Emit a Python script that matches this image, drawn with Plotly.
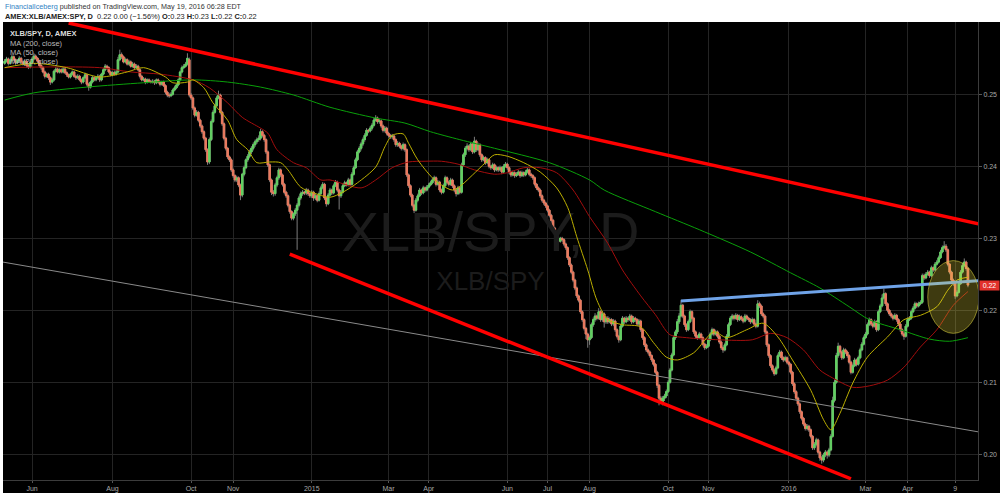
import plotly.graph_objects as go
import pandas as pd

# ---------------- data (prices in units of 0.0001) ----------------
UNIT = 1e-4

close_e4 = [
 2546, 2549, 2543, 2547, 2552, 2548, 2544, 2547, 2550, 2545,
 2542, 2546, 2540, 2538, 2544, 2549, 2553, 2550, 2546, 2540,
 2537, 2531, 2525, 2528, 2523, 2517, 2520, 2532, 2535, 2531,
 2534, 2531, 2535, 2530, 2527, 2524, 2528, 2531, 2525, 2523,
 2525, 2520, 2517, 2523, 2527, 2514, 2510, 2517, 2523, 2520,
 2523, 2525, 2520, 2528, 2534, 2539, 2537, 2531, 2527, 2530,
 2528, 2531, 2548, 2555, 2552, 2545, 2548, 2542, 2545, 2539,
 2542, 2537, 2539, 2534, 2525, 2520, 2521, 2517, 2520, 2518,
 2517, 2518, 2516, 2520, 2517, 2514, 2517, 2512, 2503, 2499,
 2498, 2500, 2506, 2509, 2513, 2520, 2531, 2537, 2539, 2542,
 2550, 2499, 2495, 2481, 2471, 2475, 2464, 2456, 2448, 2439,
 2423, 2406, 2437, 2462, 2475, 2484, 2495, 2499, 2475, 2459,
 2439, 2425, 2413, 2409, 2395, 2387, 2381, 2384, 2374, 2360,
 2389, 2398, 2409, 2414, 2420, 2425, 2430, 2434, 2437, 2439,
 2448, 2443, 2437, 2420, 2402, 2381, 2364, 2362, 2374, 2384,
 2395, 2388, 2375, 2364, 2359, 2346, 2337, 2328, 2334, 2339,
 2346, 2356, 2362, 2364, 2363, 2367, 2362, 2359, 2364, 2356,
 2359, 2353, 2362, 2370, 2375, 2356, 2348, 2360, 2367, 2363,
 2373, 2378, 2367, 2359, 2364, 2373, 2377, 2374, 2381, 2375,
 2389, 2398, 2409, 2420, 2425, 2431, 2437, 2443, 2450, 2449,
 2453, 2457, 2464, 2467, 2462, 2463, 2456, 2450, 2453, 2446,
 2443, 2441, 2442, 2437, 2430, 2432, 2428, 2425, 2430, 2423,
 2388, 2373, 2360, 2346, 2339, 2353, 2359, 2367, 2363, 2370,
 2367, 2371, 2374, 2377, 2381, 2384, 2375, 2378, 2367, 2364,
 2373, 2384, 2378, 2375, 2381, 2373, 2367, 2362, 2370, 2364,
 2402, 2416, 2425, 2428, 2423, 2431, 2420, 2435, 2423, 2430,
 2416, 2409, 2412, 2405, 2409, 2400, 2398, 2402, 2395, 2398,
 2395, 2398, 2392, 2400, 2403, 2398, 2392, 2388, 2391, 2387,
 2389, 2392, 2387, 2391, 2388, 2392, 2395, 2389, 2387, 2384,
 2375, 2370, 2367, 2359, 2353, 2349, 2345, 2339, 2332, 2325,
 2314, 2306, 2298, 2296, 2300, 2298, 2292, 2287, 2273, 2263,
 2253, 2242, 2231, 2220, 2214, 2198, 2187, 2175, 2167, 2159,
 2162, 2180, 2187, 2192, 2189, 2198, 2187, 2195, 2184, 2189,
 2184, 2187, 2181, 2185, 2173, 2164, 2159, 2178, 2189, 2184,
 2189, 2187, 2192, 2184, 2189, 2187, 2181, 2185, 2173, 2162,
 2152, 2145, 2142, 2137, 2131, 2125, 2114, 2096, 2078, 2073,
 2078, 2081, 2087, 2100, 2117, 2138, 2162, 2170, 2184, 2192,
 2207, 2192, 2180, 2173, 2184, 2198, 2189, 2170, 2164, 2162,
 2167, 2162, 2153, 2148, 2150, 2159, 2167, 2173, 2167, 2170,
 2164, 2156, 2148, 2145, 2152, 2164, 2180, 2189, 2192, 2189,
 2193, 2187, 2191, 2188, 2185, 2192, 2189, 2187, 2184, 2187,
 2181, 2178, 2209, 2206, 2195, 2192, 2170, 2152, 2137, 2123,
 2117, 2112, 2120, 2137, 2142, 2134, 2131, 2134, 2128, 2125,
 2114, 2098, 2087, 2078, 2070, 2059, 2050, 2042, 2036, 2039,
 2034, 2025, 2009, 2014, 2020, 2003, 1995, 1992, 1999, 2003,
 1999, 2006, 2025, 2075, 2100, 2137, 2150, 2142, 2134, 2145,
 2142, 2137, 2128, 2114, 2123, 2131, 2125, 2134, 2145, 2153,
 2162, 2167, 2180, 2187, 2181, 2178, 2184, 2173, 2198, 2206,
 2217, 2223, 2209, 2200, 2195, 2192, 2189, 2193, 2187, 2181,
 2173, 2167, 2164, 2178, 2187, 2189, 2198, 2203, 2209, 2206,
 2209, 2211, 2248, 2245, 2250, 2253, 2248, 2259, 2256, 2264,
 2267, 2273, 2281, 2287, 2289, 2284, 2264, 2253, 2242, 2237,
 2220, 2225, 2237, 2253, 2262, 2267, 2258, 2235]

open_e4 = [
 2543, 2546, 2549, 2543, 2547, 2552, 2548, 2544, 2547, 2550,
 2545, 2542, 2546, 2540, 2538, 2544, 2549, 2553, 2550, 2546,
 2540, 2537, 2531, 2525, 2528, 2523, 2517, 2520, 2532, 2535,
 2531, 2534, 2531, 2535, 2530, 2527, 2524, 2528, 2531, 2525,
 2523, 2525, 2520, 2517, 2523, 2527, 2514, 2510, 2517, 2523,
 2520, 2523, 2525, 2520, 2528, 2534, 2539, 2537, 2531, 2527,
 2530, 2528, 2531, 2548, 2555, 2552, 2545, 2548, 2542, 2545,
 2539, 2542, 2537, 2539, 2534, 2525, 2520, 2521, 2517, 2520,
 2518, 2517, 2518, 2516, 2520, 2517, 2514, 2517, 2512, 2503,
 2499, 2498, 2500, 2506, 2509, 2513, 2520, 2531, 2537, 2539,
 2542, 2548, 2499, 2495, 2481, 2471, 2475, 2464, 2456, 2448,
 2439, 2423, 2406, 2437, 2462, 2475, 2484, 2495, 2499, 2475,
 2459, 2439, 2425, 2413, 2409, 2395, 2387, 2381, 2384, 2374,
 2360, 2389, 2398, 2409, 2414, 2420, 2425, 2430, 2434, 2437,
 2439, 2448, 2443, 2437, 2420, 2402, 2381, 2364, 2362, 2374,
 2384, 2395, 2388, 2375, 2364, 2359, 2346, 2337, 2328, 2334,
 2339, 2346, 2356, 2362, 2364, 2363, 2367, 2362, 2359, 2364,
 2356, 2359, 2353, 2362, 2370, 2375, 2356, 2348, 2360, 2367,
 2363, 2373, 2378, 2367, 2359, 2364, 2373, 2377, 2374, 2381,
 2375, 2389, 2398, 2409, 2420, 2425, 2431, 2437, 2443, 2450,
 2449, 2453, 2457, 2464, 2467, 2462, 2463, 2456, 2450, 2453,
 2446, 2443, 2441, 2442, 2437, 2430, 2432, 2428, 2425, 2430,
 2423, 2388, 2373, 2360, 2346, 2339, 2353, 2359, 2367, 2363,
 2370, 2367, 2371, 2374, 2377, 2381, 2384, 2375, 2378, 2367,
 2364, 2373, 2384, 2378, 2375, 2381, 2373, 2367, 2362, 2370,
 2364, 2402, 2416, 2425, 2428, 2423, 2431, 2420, 2435, 2423,
 2430, 2416, 2409, 2412, 2405, 2409, 2400, 2398, 2402, 2395,
 2398, 2395, 2398, 2392, 2400, 2403, 2398, 2392, 2388, 2391,
 2387, 2389, 2392, 2387, 2391, 2388, 2392, 2395, 2389, 2387,
 2384, 2375, 2370, 2367, 2359, 2353, 2349, 2345, 2339, 2332,
 2325, 2314, 2306, 2298, 2296, 2300, 2298, 2292, 2287, 2273,
 2263, 2253, 2242, 2231, 2220, 2214, 2198, 2187, 2175, 2167,
 2159, 2162, 2180, 2187, 2192, 2189, 2198, 2187, 2195, 2184,
 2189, 2184, 2187, 2181, 2185, 2173, 2164, 2159, 2178, 2189,
 2184, 2189, 2187, 2192, 2184, 2189, 2187, 2181, 2185, 2173,
 2162, 2152, 2145, 2142, 2137, 2131, 2125, 2114, 2096, 2078,
 2073, 2078, 2081, 2087, 2100, 2117, 2138, 2162, 2170, 2184,
 2192, 2207, 2192, 2180, 2173, 2184, 2198, 2189, 2170, 2164,
 2162, 2167, 2162, 2153, 2148, 2150, 2159, 2167, 2173, 2167,
 2170, 2164, 2156, 2148, 2145, 2152, 2164, 2180, 2189, 2192,
 2189, 2193, 2187, 2191, 2188, 2185, 2192, 2189, 2187, 2184,
 2187, 2181, 2178, 2209, 2206, 2195, 2192, 2170, 2152, 2137,
 2123, 2117, 2112, 2120, 2137, 2142, 2134, 2131, 2134, 2128,
 2125, 2114, 2098, 2087, 2078, 2070, 2059, 2050, 2042, 2036,
 2039, 2034, 2025, 2009, 2014, 2020, 2003, 1995, 1992, 1999,
 2003, 1999, 2006, 2025, 2075, 2100, 2137, 2150, 2142, 2134,
 2145, 2142, 2137, 2128, 2114, 2123, 2131, 2125, 2134, 2145,
 2153, 2162, 2167, 2180, 2187, 2181, 2178, 2184, 2173, 2198,
 2206, 2217, 2223, 2209, 2200, 2195, 2192, 2189, 2193, 2187,
 2181, 2173, 2167, 2164, 2178, 2187, 2189, 2198, 2203, 2209,
 2206, 2209, 2211, 2248, 2245, 2250, 2253, 2248, 2259, 2256,
 2264, 2267, 2273, 2281, 2287, 2289, 2284, 2264, 2253, 2242,
 2237, 2220, 2225, 2237, 2253, 2262, 2267, 2258]

high_e4 = [
 2549, 2552, 2551, 2550, 2555, 2554, 2550, 2549, 2553, 2552,
 2547, 2548, 2548, 2542, 2546, 2552, 2557, 2555, 2552, 2548,
 2542, 2539, 2533, 2530, 2530, 2525, 2523, 2534, 2538, 2537,
 2536, 2536, 2538, 2537, 2532, 2529, 2530, 2533, 2533, 2527,
 2528, 2527, 2522, 2525, 2530, 2529, 2516, 2519, 2526, 2525,
 2525, 2528, 2527, 2530, 2537, 2542, 2541, 2539, 2533, 2532,
 2533, 2534, 2552, 2562, 2558, 2554, 2551, 2550, 2548, 2547,
 2545, 2544, 2542, 2541, 2536, 2527, 2524, 2523, 2522, 2522,
 2520, 2521, 2520, 2522, 2522, 2519, 2519, 2519, 2514, 2505,
 2502, 2503, 2508, 2512, 2515, 2522, 2533, 2540, 2542, 2545,
 2557, 2551, 2502, 2497, 2483, 2478, 2477, 2466, 2458, 2450,
 2441, 2425, 2440, 2465, 2478, 2487, 2498, 2505, 2501, 2477,
 2461, 2441, 2427, 2415, 2411, 2397, 2389, 2387, 2386, 2376,
 2391, 2401, 2411, 2417, 2423, 2428, 2433, 2437, 2440, 2443,
 2452, 2450, 2445, 2439, 2422, 2404, 2383, 2367, 2377, 2387,
 2398, 2397, 2390, 2377, 2366, 2361, 2348, 2339, 2336, 2342,
 2349, 2359, 2365, 2367, 2366, 2370, 2369, 2364, 2367, 2366,
 2362, 2361, 2365, 2373, 2378, 2377, 2358, 2363, 2370, 2369,
 2376, 2381, 2380, 2369, 2367, 2376, 2380, 2379, 2384, 2383,
 2392, 2401, 2412, 2423, 2428, 2434, 2440, 2446, 2453, 2452,
 2456, 2460, 2467, 2471, 2469, 2466, 2465, 2458, 2456, 2455,
 2448, 2445, 2445, 2444, 2439, 2435, 2434, 2430, 2433, 2432,
 2425, 2390, 2375, 2362, 2348, 2356, 2362, 2370, 2369, 2373,
 2372, 2374, 2377, 2380, 2384, 2387, 2386, 2381, 2380, 2369,
 2376, 2387, 2386, 2380, 2384, 2383, 2375, 2369, 2373, 2372,
 2405, 2419, 2428, 2432, 2430, 2434, 2433, 2441, 2437, 2433,
 2432, 2418, 2415, 2414, 2412, 2411, 2402, 2405, 2404, 2401,
 2400, 2401, 2400, 2403, 2406, 2405, 2400, 2394, 2394, 2393,
 2392, 2395, 2394, 2394, 2393, 2395, 2398, 2397, 2391, 2389,
 2386, 2377, 2372, 2369, 2361, 2355, 2351, 2347, 2341, 2334,
 2327, 2316, 2308, 2300, 2302, 2302, 2300, 2294, 2289, 2275,
 2265, 2255, 2244, 2233, 2222, 2216, 2200, 2189, 2177, 2169,
 2165, 2183, 2190, 2196, 2194, 2203, 2200, 2199, 2197, 2192,
 2192, 2190, 2189, 2188, 2187, 2175, 2166, 2181, 2192, 2191,
 2192, 2191, 2195, 2194, 2192, 2191, 2189, 2188, 2187, 2175,
 2164, 2154, 2147, 2144, 2139, 2133, 2127, 2116, 2098, 2081,
 2081, 2084, 2090, 2103, 2120, 2141, 2165, 2173, 2188, 2196,
 2214, 2209, 2194, 2182, 2187, 2201, 2200, 2191, 2172, 2166,
 2170, 2169, 2164, 2155, 2153, 2162, 2170, 2176, 2175, 2173,
 2172, 2166, 2158, 2150, 2155, 2167, 2183, 2192, 2195, 2194,
 2196, 2195, 2194, 2193, 2190, 2195, 2194, 2191, 2189, 2190,
 2189, 2183, 2214, 2212, 2208, 2197, 2194, 2172, 2154, 2139,
 2125, 2119, 2123, 2140, 2145, 2144, 2136, 2137, 2136, 2130,
 2127, 2116, 2100, 2089, 2080, 2072, 2061, 2052, 2044, 2042,
 2041, 2036, 2027, 2017, 2023, 2022, 2005, 1998, 2002, 2006,
 2005, 2009, 2028, 2080, 2104, 2141, 2155, 2152, 2144, 2148,
 2147, 2144, 2139, 2130, 2126, 2134, 2133, 2137, 2148, 2156,
 2165, 2170, 2183, 2190, 2189, 2183, 2187, 2186, 2201, 2209,
 2222, 2230, 2225, 2211, 2202, 2197, 2194, 2196, 2195, 2189,
 2183, 2175, 2169, 2181, 2190, 2192, 2201, 2206, 2212, 2211,
 2212, 2214, 2251, 2251, 2253, 2256, 2255, 2262, 2261, 2267,
 2270, 2276, 2284, 2290, 2296, 2292, 2286, 2266, 2255, 2244,
 2239, 2228, 2240, 2256, 2266, 2272, 2269, 2260]

low_e4 = [
 2541, 2544, 2540, 2541, 2545, 2546, 2541, 2542, 2545, 2543,
 2540, 2540, 2537, 2535, 2536, 2542, 2547, 2548, 2543, 2537,
 2534, 2529, 2522, 2523, 2520, 2513, 2515, 2518, 2530, 2529,
 2529, 2529, 2529, 2528, 2524, 2522, 2522, 2526, 2523, 2520,
 2521, 2518, 2514, 2515, 2521, 2511, 2505, 2508, 2515, 2518,
 2518, 2521, 2517, 2518, 2526, 2532, 2535, 2529, 2525, 2525,
 2526, 2526, 2529, 2546, 2549, 2543, 2543, 2540, 2540, 2537,
 2537, 2535, 2535, 2532, 2522, 2518, 2518, 2514, 2515, 2516,
 2515, 2515, 2513, 2514, 2515, 2511, 2512, 2510, 2500, 2496,
 2495, 2496, 2498, 2504, 2507, 2511, 2518, 2529, 2535, 2537,
 2540, 2496, 2492, 2478, 2468, 2469, 2461, 2453, 2445, 2436,
 2420, 2402, 2403, 2435, 2460, 2473, 2482, 2493, 2472, 2456,
 2436, 2422, 2410, 2406, 2392, 2384, 2378, 2378, 2371, 2353,
 2357, 2386, 2396, 2406, 2411, 2417, 2422, 2427, 2431, 2434,
 2436, 2440, 2434, 2417, 2399, 2378, 2360, 2358, 2359, 2371,
 2381, 2385, 2372, 2361, 2356, 2343, 2334, 2325, 2325, 2331,
 2284, 2343, 2353, 2359, 2360, 2360, 2359, 2356, 2356, 2352,
 2353, 2350, 2351, 2360, 2368, 2353, 2344, 2346, 2358, 2360,
 2361, 2371, 2364, 2340, 2356, 2362, 2371, 2372, 2372, 2372,
 2373, 2387, 2396, 2407, 2418, 2422, 2428, 2434, 2441, 2446,
 2447, 2450, 2455, 2462, 2459, 2459, 2453, 2447, 2447, 2443,
 2440, 2438, 2438, 2434, 2427, 2427, 2425, 2422, 2422, 2420,
 2385, 2370, 2357, 2343, 2335, 2337, 2350, 2357, 2360, 2361,
 2364, 2365, 2369, 2372, 2375, 2379, 2372, 2373, 2364, 2361,
 2362, 2371, 2375, 2372, 2373, 2370, 2364, 2358, 2360, 2361,
 2362, 2400, 2413, 2422, 2420, 2421, 2417, 2418, 2420, 2421,
 2413, 2406, 2407, 2402, 2403, 2397, 2395, 2396, 2392, 2393,
 2392, 2393, 2389, 2390, 2398, 2395, 2389, 2385, 2386, 2384,
 2385, 2387, 2384, 2385, 2385, 2386, 2390, 2386, 2384, 2381,
 2372, 2367, 2364, 2356, 2350, 2346, 2342, 2336, 2329, 2322,
 2311, 2303, 2295, 2293, 2294, 2295, 2289, 2284, 2270, 2260,
 2250, 2239, 2228, 2217, 2211, 2195, 2184, 2172, 2160, 2148,
 2152, 2160, 2177, 2184, 2186, 2187, 2184, 2184, 2176, 2181,
 2181, 2182, 2178, 2178, 2170, 2161, 2155, 2157, 2176, 2181,
 2182, 2184, 2185, 2181, 2182, 2184, 2178, 2178, 2170, 2159,
 2149, 2142, 2139, 2134, 2128, 2122, 2111, 2092, 2068, 2070,
 2068, 2074, 2078, 2085, 2098, 2115, 2136, 2159, 2167, 2181,
 2190, 2189, 2177, 2170, 2171, 2182, 2186, 2167, 2161, 2159,
 2160, 2159, 2150, 2145, 2146, 2148, 2157, 2165, 2164, 2165,
 2161, 2153, 2145, 2141, 2143, 2150, 2162, 2178, 2186, 2186,
 2187, 2184, 2185, 2185, 2182, 2183, 2186, 2184, 2181, 2182,
 2178, 2175, 2176, 2203, 2192, 2189, 2167, 2149, 2134, 2120,
 2114, 2109, 2110, 2118, 2135, 2131, 2128, 2129, 2125, 2122,
 2111, 2095, 2084, 2075, 2067, 2056, 2047, 2039, 2033, 2033,
 2031, 2022, 2006, 2006, 2011, 2000, 1991, 1987, 1989, 1996,
 1994, 1996, 2004, 2023, 2072, 2098, 2134, 2139, 2131, 2132,
 2139, 2134, 2125, 2111, 2112, 2121, 2122, 2123, 2132, 2143,
 2151, 2160, 2165, 2178, 2178, 2175, 2176, 2170, 2171, 2196,
 2204, 2215, 2206, 2197, 2192, 2189, 2186, 2187, 2184, 2178,
 2170, 2164, 2159, 2162, 2176, 2185, 2187, 2196, 2201, 2203,
 2204, 2207, 2209, 2242, 2243, 2248, 2245, 2246, 2253, 2254,
 2262, 2265, 2271, 2279, 2285, 2281, 2261, 2250, 2239, 2234,
 2216, 2218, 2223, 2235, 2251, 2260, 2255, 2232]

# moving averages (trading-day position, value)
ma200_day = [0, 16, 45, 76, 103, 122, 140, 158, 178, 203, 219, 233, 249, 268, 298, 320, 328, 356, 380, 408, 430, 446, 462, 473, 490, 506, 517, 527]
ma200_e4 = [2492, 2502, 2510, 2516, 2520, 2517, 2510, 2499, 2482, 2467, 2460, 2448, 2437, 2425, 2405, 2381, 2367, 2337, 2312, 2281, 2252, 2231, 2205, 2187, 2173, 2160, 2157, 2162]

ma50_day = [0, 25, 52, 69, 85, 103, 112, 122, 130, 140, 144, 149, 158, 165, 173, 178, 195, 203, 212, 221, 230, 239, 248, 257, 268, 275, 284, 293, 302, 311, 320, 330, 338, 348, 356, 364, 373, 391, 409, 419, 428, 437, 446, 453, 464, 473, 483, 492, 501, 510, 519, 527]
ma50_e4 = [2537, 2538, 2537, 2531, 2528, 2520, 2509, 2488, 2468, 2453, 2446, 2423, 2405, 2398, 2381, 2381, 2370, 2381, 2398, 2406, 2407, 2407, 2403, 2395, 2389, 2391, 2398, 2398, 2391, 2367, 2330, 2293, 2256, 2220, 2194, 2166, 2162, 2159, 2159, 2168, 2162, 2145, 2117, 2106, 2093, 2095, 2103, 2121, 2149, 2173, 2207, 2226]

ma20_day = [0, 16, 34, 52, 67, 76, 88, 92, 100, 103, 109, 114, 122, 127, 133, 138, 145, 151, 155, 162, 169, 178, 185, 193, 203, 208, 212, 218, 221, 226, 234, 239, 245, 250, 256, 263, 268, 275, 284, 293, 302, 308, 313, 319, 324, 330, 338, 348, 355, 362, 368, 377, 388, 395, 406, 415, 423, 431, 441, 448, 452, 457, 464, 472, 483, 492, 501, 510, 516, 521, 527]
ma20_e4 = [2537, 2543, 2537, 2524, 2531, 2537, 2524, 2516, 2517, 2520, 2509, 2488, 2464, 2437, 2423, 2405, 2406, 2405, 2395, 2371, 2363, 2357, 2364, 2377, 2399, 2427, 2443, 2445, 2432, 2409, 2384, 2374, 2367, 2374, 2388, 2405, 2416, 2414, 2405, 2392, 2370, 2343, 2302, 2256, 2214, 2187, 2180, 2177, 2155, 2135, 2131, 2141, 2170, 2162, 2173, 2182, 2163, 2131, 2089, 2048, 2034, 2057, 2099, 2135, 2163, 2187, 2193, 2205, 2228, 2242, 2246]

# drawn trend lines (trading-day position, value)
trend_top_day = [35, 533]
trend_top_val = [0.2599, 0.2320]
trend_low_day = [156, 463]
trend_low_val = [0.2278, 0.1966]
trend_grey_day = [-1, 533]
trend_grey_val = [0.2267, 0.2031]
trend_blue_day = [370, 533]
trend_blue_val = [0.2213, 0.2241]

# highlighted ellipse
circle_day = [505, 533]
circle_val = [0.2168, 0.2269]

# axis ticks
tick_dates = ["2014-06-02", "2014-08-01", "2014-10-01", "2014-11-03", "2015-01-01",
              "2015-03-02", "2015-04-01", "2015-06-01", "2015-07-01", "2015-08-03",
              "2015-10-01", "2015-11-02", "2016-01-01", "2016-03-01", "2016-04-01",
              "2016-05-09"]
tick_text = ["Jun", "Aug", "Oct", "Nov", "2015", "Mar", "Apr", "Jun", "Jul", "Aug",
             "Oct", "Nov", "2016", "Mar", "Apr", "9"]
y_ticks = [0.20, 0.21, 0.22, 0.23, 0.24, 0.25]
y_tick_text = ["0.20", "0.21", "0.22", "0.23", "0.24", "0.25"]

# ---------------- build ----------------
n = min(len(close_e4), len(open_e4), len(high_e4), len(low_e4))
dates = pd.bdate_range("2014-05-12", periods=n)
pos = list(range(n))
date_pos = {d.strftime("%Y-%m-%d"): i for i, d in enumerate(dates)}
tickvals = [date_pos[d] for d in tick_dates]

o = [v * UNIT for v in open_e4[:n]]
c = [v * UNIT for v in close_e4[:n]]
h = [v * UNIT for v in high_e4[:n]]
l = [v * UNIT for v in low_e4[:n]]
body_hi = [max(a, b) for a, b in zip(o, c)]
body_lo = [min(a, b) for a, b in zip(o, c)]

UP = "#62d062"
DOWN = "#ec7a5e"
WICK = "#7d7d7d"
BG = "#000000"
GRID = "#242424"

fig = go.Figure()

# watermark (behind everything)
X_RANGE = [-0.9, 532.5]
Y_RANGE = [0.19643, 0.26004]
fig.add_trace(go.Scatter(
    x=[X_RANGE[0] + 0.500 * (X_RANGE[1] - X_RANGE[0])],
    y=[Y_RANGE[0] + 0.530 * (Y_RANGE[1] - Y_RANGE[0])],
    mode="text", text=["XLB/SPY, D"], hoverinfo="skip",
    textfont=dict(family="Arial", size=56, color="#1c1c1c")))
fig.add_trace(go.Scatter(
    x=[X_RANGE[0] + 0.500 * (X_RANGE[1] - X_RANGE[0])],
    y=[Y_RANGE[0] + 0.430 * (Y_RANGE[1] - Y_RANGE[0])],
    mode="text", text=["XLB/SPY"], hoverinfo="skip",
    textfont=dict(family="Arial", size=26, color="#1c1c1c")))

# grey trend line
fig.add_trace(go.Scatter(x=trend_grey_day, y=trend_grey_val, mode="lines",
                         line=dict(color="#8a8a8a", width=1), hoverinfo="skip"))

# wicks
fig.add_trace(go.Candlestick(
    x=pos, open=o, high=h, low=l, close=c, whiskerwidth=0,
    increasing=dict(line=dict(color=WICK, width=1), fillcolor=WICK),
    decreasing=dict(line=dict(color=WICK, width=1), fillcolor=WICK),
    hoverinfo="skip"))
# bodies
fig.add_trace(go.Candlestick(
    x=pos, open=o, high=body_hi, low=body_lo, close=c, whiskerwidth=0,
    increasing=dict(line=dict(color=UP, width=1), fillcolor=UP),
    decreasing=dict(line=dict(color=DOWN, width=1), fillcolor=DOWN)))

# moving averages
for days, vals, col in [(ma200_day, ma200_e4, "#0aa00a"),
                        (ma50_day, ma50_e4, "#a30d0d"),
                        (ma20_day, ma20_e4, "#bdb000")]:
    fig.add_trace(go.Scatter(x=days, y=[v * UNIT for v in vals], mode="lines",
                             line=dict(color=col, width=1, shape="spline", smoothing=0.8),
                             hoverinfo="skip"))

# red and blue trend lines
fig.add_trace(go.Scatter(x=trend_top_day, y=trend_top_val, mode="lines",
                         line=dict(color="#ff0000", width=3.5), hoverinfo="skip"))
fig.add_trace(go.Scatter(x=trend_low_day, y=trend_low_val, mode="lines",
                         line=dict(color="#ff0000", width=3.5), hoverinfo="skip"))
fig.add_trace(go.Scatter(x=trend_blue_day, y=trend_blue_val, mode="lines",
                         line=dict(color="#6fa3e8", width=3), hoverinfo="skip"))

W, H = 1000, 495
LM, RM, TM, BM = 3, 22, 22, 15
PW = W - LM - RM
PH = H - TM - BM


def px(xp):
    return (xp - LM) / PW


def py(yp):
    return (H - BM - yp) / PH


shapes = [
    dict(type="rect", xref="paper", yref="paper", x0=px(3), x1=px(1000),
         y0=py(493), y1=1, fillcolor=BG, line=dict(width=0), layer="below"),
    dict(type="circle", xref="x", yref="y", x0=circle_day[0], x1=circle_day[1],
         y0=circle_val[0], y1=circle_val[1],
         fillcolor="rgba(240,225,60,0.26)", line=dict(color="rgba(210,200,60,0.6)", width=1)),
]

annotations = [
    dict(xref="paper", yref="paper", x=px(3), y=py(6.5), xanchor="left", yanchor="middle",
         showarrow=False,
         text='<span style="color:#2f7fc4">FinancialIceberg</span> published on TradingView.com, May 19, 2016 06:28 EDT',
         font=dict(family="Arial", size=7.2, color="#333333")),
    dict(xref="paper", yref="paper", x=px(3), y=py(16.5), xanchor="left", yanchor="middle",
         showarrow=False,
         text='<b>AMEX:XLB/AMEX:SPY, D</b>  0.22 0.00 (\u22121.56%) <b>O:</b>0.23 <b>H:</b>0.23 <b>L:</b>0.22 <b>C:</b>0.22',
         font=dict(family="Arial", size=7.4, color="#222222")),
    dict(xref="paper", yref="paper", x=px(8), y=py(33), xanchor="left", yanchor="middle",
         showarrow=False, text="<b>XLB/SPY, D, AMEX</b>",
         font=dict(family="Arial", size=7.5, color="#dddddd")),
    dict(xref="paper", yref="paper", x=px(8), y=py(43), xanchor="left", yanchor="middle",
         showarrow=False, text="MA (200, close)",
         font=dict(family="Arial", size=7.5, color="#bbbbbb")),
    dict(xref="paper", yref="paper", x=px(8), y=py(52), xanchor="left", yanchor="middle",
         showarrow=False, text="MA (50, close)",
         font=dict(family="Arial", size=7.5, color="#bbbbbb")),
    dict(xref="paper", yref="paper", x=px(8), y=py(61), xanchor="left", yanchor="middle",
         showarrow=False, text="MA (20, close)",
         font=dict(family="Arial", size=7.5, color="#bbbbbb")),
    dict(xref="paper", yref="y", x=px(979), y=c[-1], xanchor="left", yanchor="middle",
         showarrow=False, text="0.22", bgcolor="#e2312b", width=19, height=9, borderpad=0,
         font=dict(family="Arial", size=7, color="#ffffff")),
]

fig.update_layout(
    width=W, height=H,
    margin=dict(l=LM, r=RM, t=TM, b=BM),
    paper_bgcolor="#ffffff", plot_bgcolor=BG,
    showlegend=False,
    boxgap=0.1, boxgroupgap=0.1,
    shapes=shapes, annotations=annotations,
    xaxis=dict(range=X_RANGE, tickvals=tickvals, ticktext=tick_text,
               showgrid=True, gridcolor=GRID, gridwidth=1, zeroline=False,
               ticks="outside", ticklen=2, tickcolor="#555555",
               tickfont=dict(family="Arial", size=7, color="#a8a8a8"),
               showline=True, linecolor="#3c3c3c", linewidth=1,
               rangeslider=dict(visible=False), fixedrange=True, automargin=False),
    yaxis=dict(range=Y_RANGE, side="right", tickvals=y_ticks, ticktext=y_tick_text,
               showgrid=True, gridcolor=GRID, gridwidth=1, zeroline=False,
               ticks="outside", ticklen=3, tickcolor="#555555",
               tickfont=dict(family="Arial", size=7, color="#a8a8a8"),
               showline=True, linecolor="#3c3c3c", linewidth=1, fixedrange=True,
               automargin=False),
)

fig.write_html("out.html", config={"displayModeBar": False},
               post_script="document.body.style.margin='0';document.body.style.padding='0';")
